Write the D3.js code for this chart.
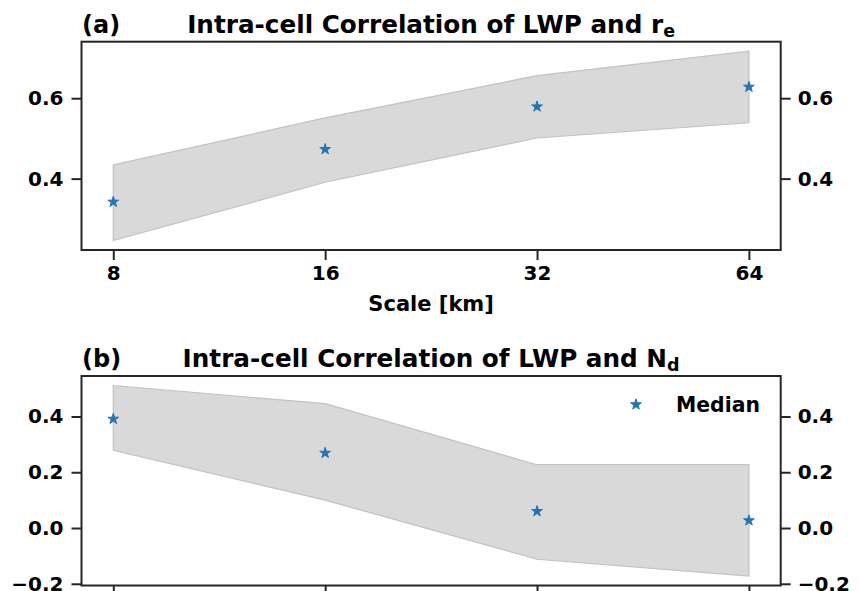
<!DOCTYPE html>
<html>
<head>
<meta charset="utf-8">
<script src="https://cdn.jsdelivr.net/npm/d3@7"></script>
<style>
  body { margin: 0; background: #fff; }
  svg text { font-family: "DejaVu Sans", sans-serif; font-weight: bold; fill: #000; }
</style>
</head>
<body>
<svg id="chart" width="859" height="591"></svg>
<script>
// Scales (km) on the x axis
const scales = [8, 16, 32, 64];

// Panel (a): LWP vs r_e
const reMedian = [0.342, 0.473, 0.579, 0.628];
const reUpper = [0.434, 0.551, 0.656, 0.717];
const reLower = [0.246, 0.391, 0.501, 0.539];
const reTicks = [0.4, 0.6];

// Panel (b): LWP vs N_d
const ndMedian = [0.391, 0.269, 0.060, 0.027];
const ndUpper = [0.511, 0.446, 0.227, 0.227];
const ndLower = [0.279, 0.100, -0.112, -0.172];
const ndTicks = [-0.2, 0.0, 0.2, 0.4];

const svg = d3.select("#chart");
const left = 81.5, right = 780.7;
const frameColor = "#262626";
const starColor = "#1f77b4";

// log2 x scale with matplotlib style 5% margins
const x = d3.scaleLog().base(2)
  .domain([8 * Math.pow(2, -0.15), 64 * Math.pow(2, 0.15)])
  .range([left, right]);

// Draw one panel
function drawPanel(opts) {
  const { top, bottom, median, upper, lower, ticks, fmt, label, titleMain, titleSub, showXLabels } = opts;
  const lo = d3.min(lower), hi = d3.max(upper);
  const pad = (hi - lo) * 0.05;
  const y = d3.scaleLinear().domain([lo - pad, hi + pad]).range([bottom, top]);

  const g = svg.append("g");

  // shaded band between lower and upper
  const area = d3.area()
    .x((d, i) => x(scales[i]))
    .y0((d, i) => y(lower[i]))
    .y1((d, i) => y(upper[i]));
  g.append("path")
    .datum(scales)
    .attr("d", area)
    .attr("fill", "#d9d9d9")
    .attr("stroke", "#c2c2c2")
    .attr("stroke-width", 1.2);

  // median stars
  g.selectAll(".star")
    .data(median)
    .join("path")
    .attr("d", d3.symbol(d3.symbolStar, 36))
    .attr("transform", (d, i) => "translate(" + x(scales[i]) + "," + y(d) + ")")
    .attr("fill", starColor)
    .attr("stroke", starColor)
    .attr("stroke-width", 1);

  // frame
  g.append("rect")
    .attr("x", left).attr("y", top)
    .attr("width", right - left).attr("height", bottom - top)
    .attr("fill", "none")
    .attr("stroke", frameColor)
    .attr("stroke-width", 2);

  // y axes (left and right)
  const yl = d3.axisLeft(y).tickValues(ticks).tickFormat(fmt).tickSize(10).tickPadding(8);
  const yr = d3.axisRight(y).tickValues(ticks).tickFormat(fmt).tickSize(10).tickPadding(7);
  const axL = g.append("g").attr("transform", "translate(" + left + ",0)").call(yl);
  const axR = g.append("g").attr("transform", "translate(" + right + ",0)").call(yr);

  // x axis
  const xa = d3.axisBottom(x).tickValues(scales).tickFormat(d3.format("d")).tickSize(10).tickPadding(6);
  const axX = g.append("g").attr("transform", "translate(0," + bottom + ")").call(xa);
  if (!showXLabels) axX.selectAll("text").remove();

  [axL, axR, axX].forEach(ax => {
    ax.select(".domain").remove();
    ax.selectAll("line").attr("stroke", frameColor).attr("stroke-width", 2);
    ax.selectAll("text").attr("font-size", 20).style("font-family", "DejaVu Sans").style("font-weight", "bold");
  });

  // panel label and title
  g.append("text")
    .attr("x", 82).attr("y", top - 9)
    .attr("font-size", 24)
    .text(label);

  const t = g.append("text")
    .attr("x", (left + right) / 2).attr("y", top - 9)
    .attr("text-anchor", "middle")
    .attr("font-size", 24.7);
  t.append("tspan").text(titleMain);
  t.append("tspan").attr("font-size", 17.5).attr("dy", 4).text(titleSub);

  return { y, g };
}

const fmtA = d3.format(".1f");
const fmtB = d => (d < 0 ? "\u2212" : "") + d3.format(".1f")(Math.abs(d));

drawPanel({
  top: 41.7, bottom: 250, median: reMedian, upper: reUpper, lower: reLower,
  ticks: reTicks, fmt: fmtA, label: "(a)",
  titleMain: "Intra-cell Correlation of LWP and r", titleSub: "e", showXLabels: true
});

// x label for panel (a)
svg.append("text")
  .attr("x", (left + right) / 2).attr("y", 311)
  .attr("text-anchor", "middle")
  .attr("font-size", 21)
  .text("Scale [km]");

drawPanel({
  top: 376, bottom: 585.5, median: ndMedian, upper: ndUpper, lower: ndLower,
  ticks: ndTicks, fmt: fmtB, label: "(b)",
  titleMain: "Intra-cell Correlation of LWP and N", titleSub: "d", showXLabels: false
});

// legend for panel (b)
svg.append("path")
  .attr("d", d3.symbol(d3.symbolStar, 36))
  .attr("transform", "translate(636,404.5)")
  .attr("fill", starColor)
  .attr("stroke", starColor)
  .attr("stroke-width", 1);
svg.append("text")
  .attr("x", 676).attr("y", 411.5)
  .attr("font-size", 20.4)
  .text("Median");
</script>
</body>
</html>
